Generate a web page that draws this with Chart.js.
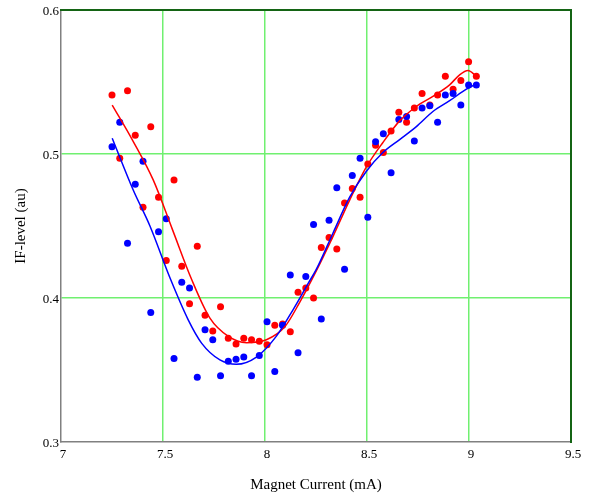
<!DOCTYPE html>
<html>
<head>
<meta charset="utf-8">
<script src="https://cdn.jsdelivr.net/npm/chart.js@4.4.1/dist/chart.umd.min.js"></script>
<style>
  html, body { margin: 0; padding: 0; background: #ffffff; }
  #wrap { width: 592px; height: 498px; }
</style>
</head>
<body>
<div id="wrap"><canvas id="c" width="592" height="498"></canvas></div>
<script>
// Magnet current (mA) at which both series were sampled
const current = [7.250, 7.288, 7.326, 7.364, 7.402, 7.440, 7.478, 7.516, 7.554, 7.592,
  7.630, 7.668, 7.706, 7.744, 7.782, 7.820, 7.858, 7.896, 7.934, 7.972,
  8.010, 8.048, 8.086, 8.124, 8.162, 8.200, 8.238, 8.276, 8.314, 8.352,
  8.390, 8.428, 8.466, 8.504, 8.542, 8.580, 8.618, 8.656, 8.694, 8.732,
  8.770, 8.808, 8.846, 8.884, 8.922, 8.960, 8.998, 9.036];

// IF-level (au), red measurement series
const redLevel = [0.541, 0.497, 0.544, 0.513, 0.463, 0.519, 0.470, 0.426, 0.482, 0.422,
  0.396, 0.436, 0.388, 0.377, 0.394, 0.372, 0.368, 0.372, 0.371, 0.370,
  0.3675, 0.381, 0.382, 0.3765, 0.404, 0.407, 0.400, 0.435, 0.442, 0.434,
  0.466, 0.476, 0.470, 0.493, 0.506, 0.501, 0.516, 0.529, 0.522, 0.532,
  0.542, 0.534, 0.541, 0.554, 0.545, 0.551, 0.564, 0.554];

// IF-level (au), blue measurement series
const blueLevel = [0.505, 0.522, 0.438, 0.479, 0.495, 0.390, 0.446, 0.455, 0.358, 0.411,
  0.407, 0.345, 0.378, 0.371, 0.346, 0.356, 0.3575, 0.359, 0.346, 0.360,
  0.3835, 0.349, 0.381, 0.416, 0.362, 0.415, 0.451, 0.3855, 0.454, 0.4765,
  0.420, 0.485, 0.497, 0.456, 0.5085, 0.514, 0.487, 0.524, 0.526, 0.509,
  0.532, 0.5335, 0.522, 0.541, 0.542, 0.534, 0.548, 0.548];

// Fitted curves
const redFitX = [7.251, 7.353, 7.452, 7.545, 7.640, 7.730, 7.819, 7.909, 8.007, 8.097,
  8.170, 8.252, 8.334, 8.415, 8.497, 8.578, 8.660, 8.742, 8.823, 8.905, 8.954, 8.995, 9.036];
const redFitY = [0.534, 0.509, 0.482, 0.448, 0.413, 0.386, 0.3735, 0.369, 0.371, 0.380,
  0.397, 0.419, 0.443, 0.468, 0.491, 0.508, 0.523, 0.533, 0.540, 0.548, 0.555, 0.558, 0.554];

const blueFitX = [7.251, 7.354, 7.436, 7.534, 7.623, 7.690, 7.779, 7.860, 7.958, 8.056,
  8.138, 8.211, 8.252, 8.333, 8.415, 8.497, 8.578, 8.660, 8.742, 8.823, 8.905, 8.987, 9.027];
const blueFitY = [0.511, 0.475, 0.450, 0.414, 0.385, 0.3685, 0.357, 0.354, 0.359, 0.3735,
  0.392, 0.410, 0.420, 0.445, 0.470, 0.488, 0.501, 0.510, 0.519, 0.5295, 0.537, 0.545, 0.548];

const xTicks = [7, 7.5, 8, 8.5, 9, 9.5];
const yTicks = [0.3, 0.4, 0.5, 0.6];

const xTitle = 'Magnet Current (mA)';
const yTitle = 'IF-level (au)';

const toPts = (xs, ys) => xs.map((x, i) => ({ x: x, y: ys[i] }));

const SERIF = '"Liberation Serif", "Times New Roman", serif';
const GRID = 'rgb(112,240,112)';
const EDGE = 'rgb(20,100,20)';
const AXIS = 'rgb(128,128,128)';

new Chart(document.getElementById('c'), {
  type: 'scatter',
  data: {
    datasets: [
      { label: 'red', data: toPts(current, redLevel), backgroundColor: '#ff0000',
        borderColor: '#ff0000', pointRadius: 3.5, pointBorderWidth: 0, order: 3 },
      { label: 'blue', data: toPts(current, blueLevel), backgroundColor: '#0000ff',
        borderColor: '#0000ff', pointRadius: 3.5, pointBorderWidth: 0, order: 2 },
      { type: 'line', label: 'red fit', data: toPts(redFitX, redFitY), borderColor: '#ff0000',
        borderWidth: 1.5, pointRadius: 0, cubicInterpolationMode: 'monotone', fill: false, order: 1 },
      { type: 'line', label: 'blue fit', data: toPts(blueFitX, blueFitY), borderColor: '#0000ff',
        borderWidth: 1.5, pointRadius: 0, cubicInterpolationMode: 'monotone', fill: false, order: 0 }
    ]
  },
  options: {
    responsive: false,
    animation: false,
    layout: { padding: { left: 0, right: 21, top: 10, bottom: 0 } },
    plugins: { legend: { display: false }, tooltip: { enabled: false } },
    scales: {
      x: {
        type: 'linear', position: 'bottom', min: 7, max: 9.5,
        afterBuildTicks: s => { s.ticks = xTicks.map(v => ({ value: v })); },
        afterFit: s => { s.height = 56; },
        grid: {
          drawTicks: false,
          color: c => (c.tick && (c.tick.value === 7 || c.tick.value === 9.5)) ? 'rgba(0,0,0,0)' : GRID,
          lineWidth: 1.5
        },
        border: { display: true, color: AXIS, width: 1.5 },
        ticks: { color: '#000', font: { family: SERIF, size: 13 }, padding: 5, maxRotation: 0,
          labelOffset: 2, callback: v => String(v) },
        title: { display: true, text: xTitle, color: '#000',
          font: { family: SERIF, size: 15 }, padding: { top: 0, bottom: 4 } }
      },
      y: {
        type: 'linear', position: 'left', min: 0.3, max: 0.6,
        afterBuildTicks: s => { s.ticks = yTicks.map(v => ({ value: v })); },
        afterFit: s => { s.width = 61; },
        grid: {
          drawTicks: false,
          color: c => (c.tick && (Math.abs(c.tick.value - 0.3) < 1e-9 || Math.abs(c.tick.value - 0.6) < 1e-9)) ? 'rgba(0,0,0,0)' : GRID,
          lineWidth: 1.5
        },
        border: { display: true, color: AXIS, width: 1.5 },
        ticks: { color: '#000', font: { family: SERIF, size: 13 }, padding: 2,
          labelOffset: 2, callback: v => String(Math.round(v * 10) / 10) },
        title: { display: true, text: yTitle, color: '#000',
          font: { family: SERIF, size: 15 }, padding: { top: 12, bottom: 0 } }
      },
      x2: {
        type: 'linear', position: 'top', min: 7, max: 9.5,
        afterFit: s => { s.height = 0; },
        grid: { display: false, drawTicks: false },
        border: { display: true, color: EDGE, width: 2 },
        ticks: { display: false }
      },
      y2: {
        type: 'linear', position: 'right', min: 0.3, max: 0.6,
        afterFit: s => { s.width = 0; },
        grid: { display: false, drawTicks: false },
        border: { display: true, color: EDGE, width: 2 },
        ticks: { display: false }
      }
    }
  }
});
</script>
</body>
</html>
